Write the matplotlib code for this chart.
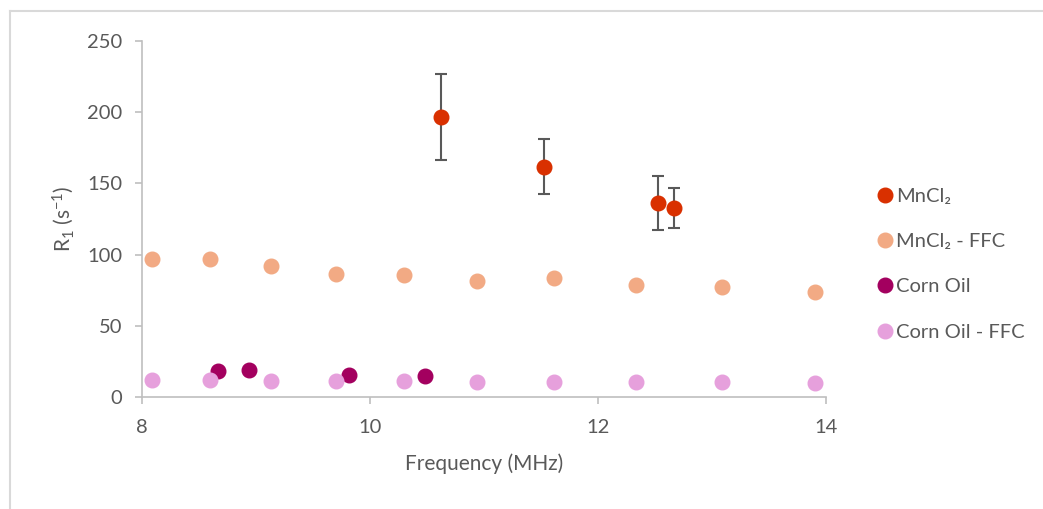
import matplotlib
matplotlib.use("Agg")
import matplotlib.pyplot as plt
from matplotlib.lines import Line2D

plt.rcParams['font.family'] = ['Lato', 'DejaVu Sans']
plt.rcParams['mathtext.default'] = 'regular'

# MnCl2 (measured, with error bars)
mn_freq = [10.62, 11.53, 12.53, 12.67]
mn_r1 = [196.6, 161.6, 136.4, 132.6]
mn_err = [30.3, 19.2, 19.0, 14.2]

# MnCl2 - FFC
mn_ffc_freq = [8.09, 8.60, 9.13, 9.70, 10.30, 10.94, 11.61, 12.33, 13.09, 13.90]
mn_ffc_r1 = [96.6, 96.8, 92.1, 86.5, 85.6, 81.4, 83.5, 78.8, 77.2, 73.7]

# Corn Oil
oil_freq = [8.67, 8.94, 9.82, 10.48]
oil_r1 = [18.5, 18.9, 15.7, 15.0]

# Corn Oil - FFC
oil_ffc_freq = mn_ffc_freq
oil_ffc_r1 = [11.7, 11.7, 11.2, 11.2, 10.9, 10.8, 10.8, 10.5, 10.3, 10.0]

labels = ['MnCl₂', 'MnCl₂ - FFC', 'Corn Oil', 'Corn Oil - FFC']
colors = ['#D93000', '#F2AA84', '#A3005F', '#E6A0DC']
grey = '#595959'

fig = plt.figure(figsize=(10.43, 5.09), dpi=100)
ax = fig.add_axes([0.136, 0.22, 0.656, 0.70])

ms = 10.5
ax.errorbar(mn_freq, mn_r1, yerr=mn_err, fmt='o', color=colors[0], ms=ms,
            ecolor=grey, elinewidth=1.5, capsize=4.5, capthick=1.5, zorder=3)
ax.plot(mn_ffc_freq, mn_ffc_r1, 'o', color=colors[1], ms=ms, zorder=3)
ax.plot(oil_freq, oil_r1, 'o', color=colors[2], ms=ms, zorder=3)
ax.plot(oil_ffc_freq, oil_ffc_r1, 'o', color=colors[3], ms=ms, zorder=4)

ax.set_xlim(8, 14)
ax.set_ylim(0, 250)
ax.set_xticks([8, 10, 12, 14])
ax.set_yticks([0, 50, 100, 150, 200, 250])

for side in ['top', 'right']:
    ax.spines[side].set_visible(False)
for side in ['left', 'bottom']:
    ax.spines[side].set_color('#BFBFBF')
    ax.spines[side].set_linewidth(1.2)

ax.tick_params(axis='both', colors='#BFBFBF', labelcolor=grey,
               labelsize=14.5, length=5, width=1.2)
ax.tick_params(axis='x', pad=11)
ax.tick_params(axis='y', pad=9)

ax.set_xlabel('Frequency (MHz)', fontsize=15, color=grey, labelpad=12)
ax.set_ylabel('R$_1$ (s$^{-1}$)', fontsize=15, color=grey, labelpad=8)

handles = [Line2D([], [], marker='o', ls='', color=c, ms=ms) for c in colors]
leg = ax.legend(handles, labels, loc='upper left', bbox_to_anchor=(0.831, 0.647),
                bbox_transform=fig.transFigure, frameon=False,
                fontsize=14.5, labelspacing=1.4, handletextpad=0.05,
                handlelength=1.0, borderaxespad=0)
for t in leg.get_texts():
    t.set_color(grey)

# light outer frame of the chart area
fig.add_artist(Line2D([10 / 1043, 1], [1 - 11 / 509, 1 - 11 / 509],
                      transform=fig.transFigure, color='#D9D9D9', lw=1.5))
fig.add_artist(Line2D([10 / 1043, 10 / 1043], [0, 1 - 11 / 509],
                      transform=fig.transFigure, color='#D9D9D9', lw=1.5))

fig.savefig('out.png', dpi=100)
